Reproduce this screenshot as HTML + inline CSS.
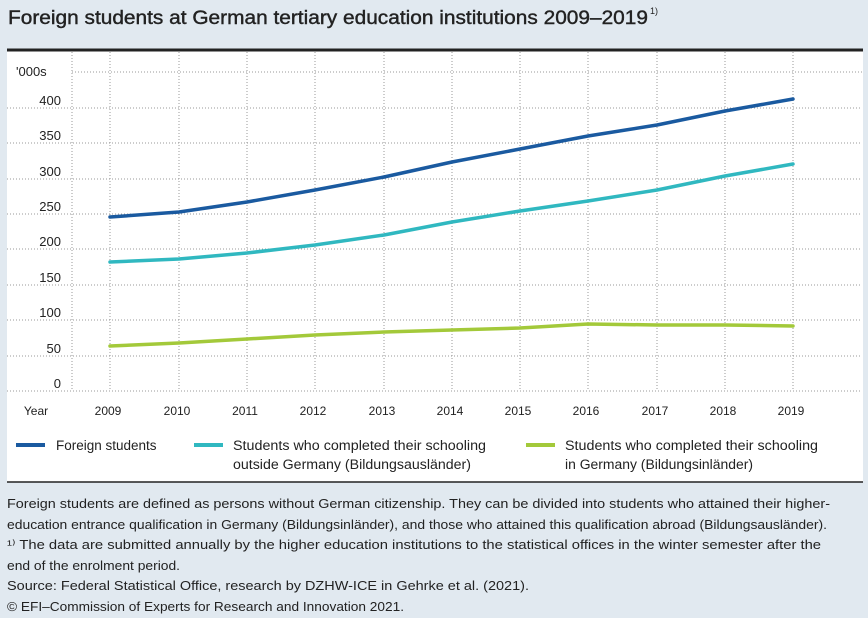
<!DOCTYPE html>
<html><head><meta charset="utf-8"><style>
html,body{margin:0;padding:0;background:#e1e9f0;}
svg{display:block;font-family:"Liberation Sans",sans-serif;}
</style></head><body>
<svg width="868" height="618" viewBox="0 0 868 618" xmlns="http://www.w3.org/2000/svg">
<rect width="868" height="618" fill="#e1e9f0"/>
<text x="8" y="24" font-size="19" fill="#222" stroke="#222" stroke-width="0.4" textLength="640" lengthAdjust="spacingAndGlyphs">Foreign students at German tertiary education institutions 2009–2019</text>
<text x="650" y="14" font-size="9" fill="#222">1)</text>
<rect x="7" y="50" width="856" height="432" fill="#fff"/>
<line x1="7" y1="50" x2="863" y2="50" stroke="#222" stroke-width="3"/>
<line x1="7" y1="482" x2="863" y2="482" stroke="#222" stroke-width="1.5"/>
<g stroke="#999" stroke-width="1" stroke-dasharray="1 2" fill="none">
<line x1="72" y1="72" x2="862" y2="72"/>
<line x1="7" y1="108" x2="862" y2="108"/>
<line x1="7" y1="143" x2="862" y2="143"/>
<line x1="7" y1="179" x2="862" y2="179"/>
<line x1="7" y1="214" x2="862" y2="214"/>
<line x1="7" y1="249" x2="862" y2="249"/>
<line x1="7" y1="285" x2="862" y2="285"/>
<line x1="7" y1="320" x2="862" y2="320"/>
<line x1="7" y1="356" x2="862" y2="356"/>
<line x1="7" y1="391" x2="862" y2="391"/>
<line x1="72" y1="52" x2="72" y2="391"/>
<line x1="110" y1="52" x2="110" y2="391"/>
<line x1="179" y1="52" x2="179" y2="391"/>
<line x1="247" y1="52" x2="247" y2="391"/>
<line x1="315" y1="52" x2="315" y2="391"/>
<line x1="384" y1="52" x2="384" y2="391"/>
<line x1="452" y1="52" x2="452" y2="391"/>
<line x1="520" y1="52" x2="520" y2="391"/>
<line x1="588" y1="52" x2="588" y2="391"/>
<line x1="657" y1="52" x2="657" y2="391"/>
<line x1="725" y1="52" x2="725" y2="391"/>
<line x1="793" y1="52" x2="793" y2="391"/>
</g>
<text x="16" y="76" font-size="13" fill="#222">'000s</text>
<g font-size="13" fill="#222" text-anchor="end">
<text x="61" y="105">400</text><text x="61" y="140">350</text><text x="61" y="176">300</text>
<text x="61" y="211">250</text><text x="61" y="246">200</text><text x="61" y="282">150</text>
<text x="61" y="317">100</text><text x="61" y="353">50</text><text x="61" y="388">0</text>
</g>
<g font-size="12" fill="#222" text-anchor="middle">
<text x="36" y="415">Year</text>
<text x="108" y="415">2009</text><text x="177" y="415">2010</text><text x="245" y="415">2011</text>
<text x="313" y="415">2012</text><text x="382" y="415">2013</text><text x="450" y="415">2014</text>
<text x="518" y="415">2015</text><text x="586" y="415">2016</text><text x="655" y="415">2017</text>
<text x="723" y="415">2018</text><text x="791" y="415">2019</text>
</g>
<g fill="none" stroke-width="3.5" stroke-linejoin="round" stroke-linecap="round">
<polyline stroke="#a3c93a" points="110,346 179,343 247,339 315,335 384,332 452,330 520,328 588,324 657,325 725,325 793,326"/>
<polyline stroke="#30b8c0" points="110,262 179,259 247,253 315,245 384,235 452,222 520,211 588,201 657,190 725,176 793,164"/>
<polyline stroke="#1a5aa0" points="110,217 179,212 247,202 315,190 384,177 452,162 520,149 588,136 657,125 725,111 793,99"/>
</g>
<g stroke-width="4">
<line x1="16" y1="445" x2="45" y2="445" stroke="#1a5aa0"/>
<line x1="194" y1="445" x2="223" y2="445" stroke="#30b8c0"/>
<line x1="526" y1="445" x2="555" y2="445" stroke="#a3c93a"/>
</g>
<g font-size="13.5" fill="#222">
<text x="56" y="450">Foreign students</text>
<text x="233" y="450" textLength="253" lengthAdjust="spacingAndGlyphs">Students who completed their schooling</text>
<text x="233" y="469" textLength="238" lengthAdjust="spacingAndGlyphs">outside Germany (Bildungsausländer)</text>
<text x="565" y="450" textLength="253" lengthAdjust="spacingAndGlyphs">Students who completed their schooling</text>
<text x="565" y="469" textLength="188" lengthAdjust="spacingAndGlyphs">in Germany (Bildungsinländer)</text>
</g>
<g font-size="13" fill="#222">
<text x="7" y="508" textLength="823" lengthAdjust="spacingAndGlyphs">Foreign students are defined as persons without German citizenship. They can be divided into students who attained their higher-</text>
<text x="7" y="529" textLength="820" lengthAdjust="spacingAndGlyphs">education entrance qualification in Germany (Bildungsinländer), and those who attained this qualification abroad (Bildungsausländer).</text>
<text x="7" y="549" textLength="814" lengthAdjust="spacingAndGlyphs">¹⁾ The data are submitted annually by the higher education institutions to the statistical offices in the winter semester after the</text>
<text x="7" y="570" textLength="173" lengthAdjust="spacingAndGlyphs">end of the enrolment period.</text>
<text x="7" y="590" textLength="522" lengthAdjust="spacingAndGlyphs">Source: Federal Statistical Office, research by DZHW-ICE in Gehrke et al. (2021).</text>
<text x="7" y="611" textLength="397" lengthAdjust="spacingAndGlyphs">© EFI–Commission of Experts for Research and Innovation 2021.</text>
</g>
</svg>
</body></html>
